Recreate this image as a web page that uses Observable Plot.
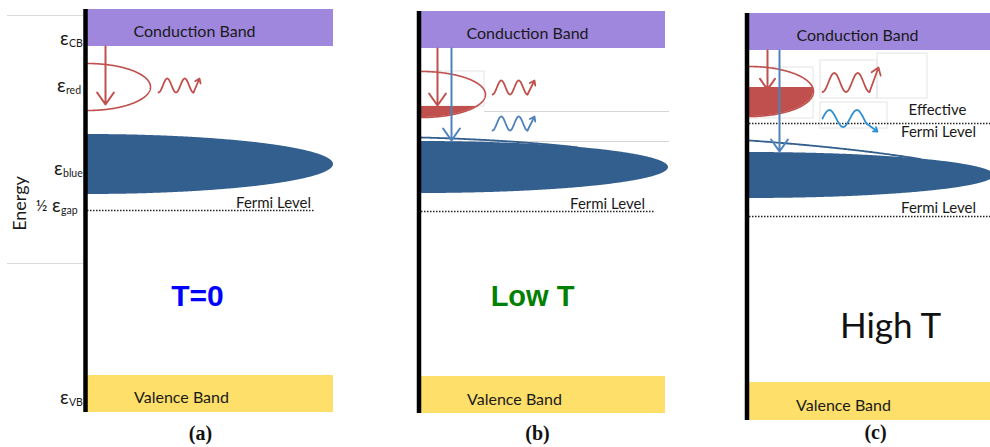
<!DOCTYPE html>
<html><head><meta charset="utf-8">
<script src="https://cdn.jsdelivr.net/npm/d3@7"></script>
<script src="https://cdn.jsdelivr.net/npm/@observablehq/plot@0.6"></script>
<style>html,body{margin:0;padding:0;background:#fff;} #chart{width:990px;height:447px;overflow:hidden}</style>
</head><body><div id="chart"></div>
<script>
// ---- data (picture units: x to the right, y downward) ----
const panels = ["(a)", "(b)", "(c)"];
const captionX = [200, 537, 875];
const captionY = [433, 433, 432];
const axisX = [85, 418.5, 746.5];
const axisTop = [9, 11, 13];
const axisBottom = [412, 413, 420];
const bandLeft = [87, 421, 749];
const bandRight = [333, 665, 990];
const cbTop = [9, 11, 13];
const cbBottom = [46, 48, 50];
const cbLabelX = [194, 527, 857];
const cbLabelY = [31, 33, 35];
const vbTop = [375, 376, 382];
const vbBottom = [412, 413, 420];
const vbLabelX = [181, 514, 843];
const vbLabelY = [397, 399, 405];
const tempText = ["T=0", "Low T", "High T"];
const tempX = [197, 532, 890];
const tempY = [296, 296, 326];
const fermiY = [210, 211, 216];
const fermiX2 = [315, 655, 990];
const fermiLabelX = [273, 607, 938];
const fermiLabelY = [203, 204, 208];
const effFermiY = [123];
const effFermiX1 = [749];
const effFermiX2 = [990];
const effLabelX = [937, 938];
const effLabelY = [110, 132];
const effLabels = ["Effective", "Fermi Level"];

// energy levels on the axis of panel (a)
const levelSubs = ["CB", "red", "blue", "gap", "VB"];
const levelEpsX = [68, 65, 62, 60, 68];
const levelY = [38, 85, 168, 205, 397];
const halfX = [41];
const halfY = [205];
const leftGuideY = [15, 263];

// red (upper) state: half ellipse
const redCy = [86.5, 94, 91];
const redRy = [23.5, 23, 25];
const redRx = [63, 64, 64];
const redFillFrom = [null, 106, 87];
// blue (lower) state: filled half ellipse
const blueCy = [164, 167, 175];
const blueRy = [30, 26, 23];
const blueRx = [246, 247, 245];
// blue thin outline above the fill (panels b, c)
const blueOutPanel = [1, 2];
const blueOutGap = [4, 12];
const blueOutMergeX = [577, 920];

// decay arrows
const redArrowX = [105, 437, 767];
const redArrowY1 = [46, 48, 50];
const redArrowY2 = [104, 105, 89];
const blueArrowX = [451, 779];
const blueArrowY1 = [48, 50];
const blueArrowY2 = [140, 151];

// emitted photons (wavy arrows)
const redWaveX0 = [158, 492, 822];
const redWaveX1 = [193, 527, 869];
const redWaveY = [85, 87, 82];
const redWaveAmp = [7, 7, 9.5];
const redWaveCycles = [2, 2, 2];
const redWavePhase = [0, 0, 0];
const redWaveTipX = [199, 534, 878];
const redWaveTipY = [78, 80, 67];
const blueWaveX0 = [492, 822];
const blueWaveX1 = [527, 866];
const blueWaveY = [123, 118];
const blueWaveAmp = [7, 8.5];
const blueWaveCycles = [2, 1.6];
const blueWavePhase = [0, 0.25];
const blueWaveTipX = [534, 877];
const blueWaveTipY = [116, 131];

// faint picture frames
const boxX1 = [420, 749, 820, 877, 820];
const boxX2 = [484, 813, 877, 927, 887];
const boxY1 = [71, 67, 60, 53, 102];
const boxY2 = [106, 118, 98, 98, 128];
const guideBY = [111, 141];
const guideBX1 = [484, 450];
const guideBX2 = [669, 669];

// ---- geometry helpers ----
const N = 240;
function halfEllipseOutline(left, cy, rx, ry, from, to) {
  const pts = [];
  for (let k = 0; k <= N; k++) {
    const t = from + (to - from) * k / N;
    pts.push({x: left + rx * Math.cos(t), y: cy + ry * Math.sin(t)});
  }
  return pts;
}
function halfEllipseArea(left, cy, rx, ry, fillFrom) {
  const pts = [];
  for (let k = 0; k <= N; k++) {
    const t = Math.PI / 2 - (Math.PI / 2) * k / N;
    const h = ry * Math.sin(t);
    let y1 = cy - h, y2 = cy + h;
    if (fillFrom != null) {
      if (y2 <= fillFrom) continue;
      y1 = Math.max(y1, fillFrom);
    }
    pts.push({x: left + rx * Math.cos(t), y1, y2});
  }
  return pts;
}
function topOutline(left, cy, rx, ry, gap, mergeX) {
  const pts = [];
  for (let k = 0; k <= 120; k++) {
    const x = left + (mergeX - left) * k / 120;
    const u = (x - left) / rx;
    const top = cy - ry * Math.sqrt(Math.max(0, 1 - u * u));
    pts.push({x, y: top - gap * (1 - k / 120)});
  }
  return pts;
}
function wave(x0, x1, cy, amp, cycles, phase) {
  const pts = [];
  for (let k = 0; k <= 120; k++) {
    const t = k / 120;
    pts.push({x: x0 + (x1 - x0) * t, y: cy + amp * Math.cos(2 * Math.PI * (cycles * t + phase))});
  }
  return pts;
}

const idx = panels.map((_, i) => i);
const purple = "#9e87dc", yellow = "#fddf6a", blueFill = "#335f8f", red = "#c0504d", blueLine = "#4f81bd";
const sans = "Lato, 'Open Sans', sans-serif";
const ink = "#1a1a1a";

const marks = [];
// faint frames and guides
marks.push(Plot.ruleY(leftGuideY, {y: d => d, x1: 7, x2: 83, stroke: "#d9d9d9", strokeWidth: 1}));
marks.push(Plot.rect(boxX1.map((_, i) => i), {x1: i => boxX1[i], x2: i => boxX2[i], y1: i => boxY1[i], y2: i => boxY2[i], fill: "none", stroke: "#e4e4e4", strokeWidth: 1}));
marks.push(Plot.ruleY(guideBY.map((_, i) => i), {y: i => guideBY[i], x1: i => guideBX1[i], x2: i => guideBX2[i], stroke: "#d6d6d6", strokeWidth: 1}));

// bands
marks.push(Plot.rect(idx, {x1: i => bandLeft[i], x2: i => bandRight[i], y1: i => cbTop[i], y2: i => cbBottom[i], fill: purple}));
marks.push(Plot.rect(idx, {x1: i => bandLeft[i], x2: i => bandRight[i], y1: i => vbTop[i], y2: i => vbBottom[i], fill: yellow}));
marks.push(Plot.text(idx, {x: i => cbLabelX[i], y: i => cbLabelY[i], text: () => "Conduction Band", fontFamily: sans, fontSize: 16, fill: ink}));
marks.push(Plot.text(idx, {x: i => vbLabelX[i], y: i => vbLabelY[i], text: () => "Valence Band", fontFamily: sans, fontSize: 16, fill: ink}));

// blue outlines then fills
blueOutPanel.forEach((p, j) => {
  marks.push(Plot.line(topOutline(bandLeft[p], blueCy[p], blueRx[p], blueRy[p], blueOutGap[j], blueOutMergeX[j]), {x: "x", y: "y", stroke: blueFill, strokeWidth: 1.8}));
});
idx.forEach(i => {
  marks.push(Plot.areaY(halfEllipseArea(bandLeft[i], blueCy[i], blueRx[i], blueRy[i], null), {x: "x", y1: "y1", y2: "y2", fill: blueFill}));
  if (redFillFrom[i] != null) {
    marks.push(Plot.areaY(halfEllipseArea(bandLeft[i], redCy[i], redRx[i], redRy[i], redFillFrom[i]), {x: "x", y1: "y1", y2: "y2", fill: red}));
  }
  marks.push(Plot.line(halfEllipseOutline(bandLeft[i], redCy[i], redRx[i], redRy[i], -Math.PI / 2, Math.PI / 2), {x: "x", y: "y", stroke: red, strokeWidth: 1.6}));
});

// Fermi levels
marks.push(Plot.ruleY(idx, {y: i => fermiY[i], x1: i => bandLeft[i], x2: i => fermiX2[i], stroke: "#222", strokeWidth: 1.3, strokeDasharray: "1.5,1.5"}));
marks.push(Plot.ruleY([0], {y: i => effFermiY[i], x1: i => effFermiX1[i], x2: i => effFermiX2[i], stroke: "#222", strokeWidth: 1.3, strokeDasharray: "1.5,1.5"}));
marks.push(Plot.text(idx, {x: i => fermiLabelX[i], y: i => fermiLabelY[i], text: () => "Fermi Level", fontFamily: sans, fontSize: 15, fill: ink}));
marks.push(Plot.text([0, 1], {x: i => effLabelX[i], y: i => effLabelY[i], text: i => effLabels[i], fontFamily: sans, fontSize: 15, fill: ink}));

// decay arrows
marks.push(Plot.arrow(idx, {x1: i => redArrowX[i], x2: i => redArrowX[i], y1: i => redArrowY1[i], y2: i => redArrowY2[i], stroke: red, strokeWidth: 2, headLength: 11, headAngle: 70}));
marks.push(Plot.arrow([0, 1], {x1: i => blueArrowX[i], x2: i => blueArrowX[i], y1: i => blueArrowY1[i], y2: i => blueArrowY2[i], stroke: blueLine, strokeWidth: 2, headLength: 11, headAngle: 70}));

// photons
idx.forEach(i => {
  const w = wave(redWaveX0[i], redWaveX1[i], redWaveY[i], redWaveAmp[i], redWaveCycles[i], redWavePhase[i]);
  marks.push(Plot.line(w, {x: "x", y: "y", stroke: red, strokeWidth: 1.8, curve: "basis"}));
  const e = w[w.length - 1];
  marks.push(Plot.arrow([0], {x1: e.x, y1: e.y, x2: redWaveTipX[i], y2: redWaveTipY[i], stroke: red, strokeWidth: 1.8, headLength: 7, headAngle: 70}));
});
[0, 1].forEach(j => {
  const col = j === 0 ? blueLine : "#2f8fd3";
  const w = wave(blueWaveX0[j], blueWaveX1[j], blueWaveY[j], blueWaveAmp[j], blueWaveCycles[j], blueWavePhase[j]);
  marks.push(Plot.line(w, {x: "x", y: "y", stroke: col, strokeWidth: 1.8, curve: "basis"}));
  const e = w[w.length - 1];
  marks.push(Plot.arrow([0], {x1: e.x, y1: e.y, x2: blueWaveTipX[j], y2: blueWaveTipY[j], stroke: col, strokeWidth: 1.8, headLength: 7, headAngle: 70}));
});

// energy level labels on panel (a)
marks.push(Plot.text(levelSubs, {x: (d, i) => levelEpsX[i], y: (d, i) => levelY[i], text: () => "ε", textAnchor: "end", fontFamily: sans, fontSize: 19, fill: ink}));
marks.push(Plot.text(levelSubs, {x: (d, i) => levelEpsX[i] + 0.5, y: (d, i) => levelY[i] + 5.5, text: d => d, textAnchor: "start", fontFamily: sans, fontSize: 10.5, fill: ink}));
marks.push(Plot.text(["½"], {x: () => halfX[0], y: () => halfY[0], text: d => d, fontFamily: sans, fontSize: 16, fill: ink}));
marks.push(Plot.text(["Energy"], {x: 20, y: 203, text: d => d, rotate: -90, fontFamily: sans, fontSize: 18, fill: ink}));

// energy axes
marks.push(Plot.ruleX(idx, {x: i => axisX[i], y1: i => axisTop[i], y2: i => axisBottom[i], stroke: "#000", strokeWidth: 4.5}));

// temperature labels
marks.push(Plot.text([0], {x: i => tempX[i], y: i => tempY[i], text: i => tempText[i], fontFamily: "'Liberation Sans', Arial, sans-serif", fontWeight: "bold", fontSize: 30, fill: "#0000ff"}));
marks.push(Plot.text([1], {x: i => tempX[i], y: i => tempY[i], text: i => tempText[i], fontFamily: "'Liberation Sans', Arial, sans-serif", fontWeight: "bold", fontSize: 29, fill: "#008000"}));
marks.push(Plot.text([2], {x: i => tempX[i], y: i => tempY[i], text: i => tempText[i], fontFamily: sans, fontSize: 35, fill: "#111"}));

// captions
marks.push(Plot.text(idx, {x: i => captionX[i], y: i => captionY[i], text: i => panels[i], fontFamily: "'Liberation Serif', 'Times New Roman', serif", fontWeight: "bold", fontSize: 20, fill: "#111"}));

const chart = Plot.plot({
  width: 990, height: 447,
  marginTop: 0, marginRight: 0, marginBottom: 0, marginLeft: 0,
  x: {domain: [0, 990], axis: null},
  y: {domain: [0, 447], reverse: true, axis: null},
  style: {background: "#fff", overflow: "hidden"},
  marks
});
document.getElementById("chart").appendChild(chart);
</script></body></html>
